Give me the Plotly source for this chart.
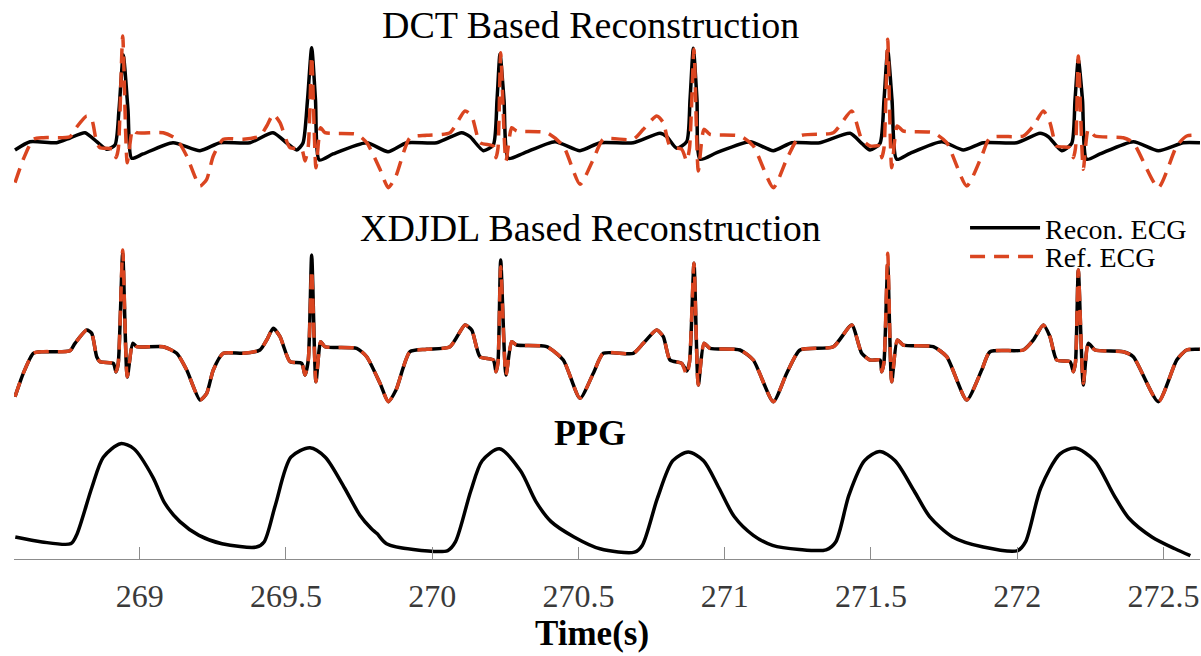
import plotly.graph_objects as go

# ---------------- data ----------------
# Reference ECG (same signal drawn in both ECG panels)
ref_t = [268.5737, 268.6021, 268.6362, 268.6704, 268.7617, 268.7788, 268.8188, 268.8359, 268.8530, 268.8643,
         268.9098, 268.9190, 268.9268, 268.9419, 268.9576, 268.9761, 268.9897, 269.0807, 269.1265, 269.1607,
         269.2062, 269.2291, 269.2516, 269.2858, 269.3542, 269.4113, 269.4342, 269.4568, 269.4797, 269.5139,
         269.5538, 269.5651, 269.5764, 269.5880, 269.6027, 269.6188, 269.6335, 269.7419, 269.7761, 269.8215,
         269.8499, 269.8762, 269.9241, 269.9812, 270.0609, 270.1121, 270.1351, 270.1634, 270.2089, 270.2181,
         270.2250, 270.2342, 270.2523, 270.2718, 270.2889, 270.3915, 270.4482, 270.5053, 270.5508, 270.5850,
         270.6875, 270.7217, 270.7675, 270.7901, 270.8130, 270.8530, 270.8701, 270.8797, 270.8950, 270.9098,
         270.9292, 270.9497, 271.0523, 271.0978, 271.1662, 271.2120, 271.2574, 271.3713, 271.4342, 271.4684,
         271.4968, 271.5310, 271.5368, 271.5446, 271.5573, 271.5710, 271.5901, 271.6106, 271.7132, 271.7590,
         271.8274, 271.8787, 271.9070, 272.0209, 272.0551, 272.0893, 272.1121, 272.1350, 272.1805, 272.1918,
         272.1993, 272.2089, 272.2260, 272.2431, 272.2660, 272.3627, 272.3969, 272.4824, 272.5453, 272.5795,
         272.6249]
ref_v = [-0.447, -0.213, -0.013, 0.003, 0.013, 0.087, 0.220, 0.187, -0.047, -0.097,
         -0.113, -0.197, -0.110, 1.020, -0.247, 0.087, 0.053, 0.053, -0.013, -0.180,
         -0.480, -0.413, -0.180, -0.013, -0.013, 0.020, 0.120, 0.237, 0.153, -0.097,
         -0.113, -0.230, -0.080, 0.820, -0.297, 0.103, 0.053, 0.037, -0.047, -0.313,
         -0.497, -0.380, 0.003, 0.027, 0.053, 0.270, 0.220, -0.047, -0.080, -0.197,
         -0.100, 0.853, -0.230, 0.103, 0.070, 0.053, -0.080, -0.463, -0.213, -0.013,
         -0.013, 0.087, 0.220, 0.153, -0.080, -0.113, -0.230, -0.100, 0.887, -0.330,
         0.087, 0.037, 0.020, -0.080, -0.497, -0.213, 0.020, 0.053, 0.270, -0.013,
         -0.080, -0.080, -0.197, -0.100, 0.987, -0.297, 0.120, 0.070, 0.053, -0.047,
         -0.480, -0.180, 0.003, 0.020, 0.120, 0.270, 0.153, -0.080, -0.097, -0.197,
         -0.100, 0.820, -0.313, 0.087, 0.020, 0.003, -0.047, -0.497, -0.080, 0.020,
         0.027]

# XDJDL reconstruction (nearly identical to the reference)
xdjdl_t = ref_t
xdjdl_v = [-0.447, -0.213, -0.013, 0.003, 0.013, 0.087, 0.220, 0.187, -0.047, -0.097,
           -0.113, -0.200, -0.110, 0.990, -0.250, 0.087, 0.053, 0.053, -0.013, -0.180,
           -0.480, -0.413, -0.180, -0.013, -0.013, 0.020, 0.120, 0.237, 0.153, -0.097,
           -0.113, -0.230, -0.080, 0.970, -0.297, 0.103, 0.053, 0.037, -0.047, -0.313,
           -0.497, -0.380, 0.003, 0.027, 0.053, 0.270, 0.220, -0.047, -0.080, -0.197,
           -0.100, 0.920, -0.230, 0.103, 0.070, 0.053, -0.080, -0.463, -0.213, -0.013,
           -0.013, 0.087, 0.220, 0.153, -0.080, -0.113, -0.190, -0.100, 0.887, -0.330,
           0.087, 0.037, 0.020, -0.080, -0.497, -0.213, 0.020, 0.053, 0.270, -0.013,
           -0.080, -0.080, -0.197, -0.100, 0.870, -0.297, 0.120, 0.070, 0.053, -0.047,
           -0.480, -0.180, 0.003, 0.020, 0.120, 0.270, 0.153, -0.080, -0.097, -0.197,
           -0.100, 0.820, -0.330, 0.087, 0.020, 0.003, -0.047, -0.497, -0.080, 0.020,
           0.027]

# DCT reconstruction
dct_t = [268.5737, 268.6250, 268.7162, 268.7617, 268.8130, 268.8530, 268.8872, 268.9156, 268.9292, 268.9439,
         268.9600, 268.9727, 269.0113, 269.1139, 269.2062, 269.2745, 269.3771, 269.4557, 269.5026, 269.5368,
         269.5583, 269.5737, 269.5880, 269.6010, 269.6140, 269.6609, 269.7761, 269.8489, 269.9128, 270.0154,
         270.1009, 270.1292, 270.1747, 270.2089, 270.2216, 270.2318, 270.2455, 270.2602, 270.3115, 270.4198,
         270.5053, 270.5737, 270.6875, 270.7788, 270.8017, 270.8359, 270.8701, 270.8814, 270.8927, 270.9053,
         270.9156, 270.9727, 271.0865, 271.1662, 271.2290, 271.3258, 271.4284, 271.4684, 271.4968, 271.5310,
         271.5446, 271.5573, 271.5720, 271.5880, 271.6335, 271.7419, 271.8157, 271.8841, 271.9983, 272.0780,
         272.1064, 272.1522, 272.1864, 272.1976, 272.2089, 272.2232, 272.2376, 272.2831, 272.3969, 272.4824,
         272.5679, 272.6249]
dct_v = [-0.120, -0.037, -0.047, 0.000, 0.053, -0.037, -0.113, -0.070, 0.280, 0.830,
         0.280, -0.203, -0.160, -0.047, -0.127, -0.047, -0.047, 0.053, -0.050, -0.120,
         -0.050, 0.380, 0.903, 0.380, -0.220, -0.160, -0.047, -0.137, -0.047, -0.047,
         0.053, 0.013, -0.127, -0.070, 0.380, 0.840, 0.380, -0.203, -0.153, -0.037,
         -0.127, -0.047, -0.047, 0.047, 0.013, -0.103, -0.037, 0.380, 0.897, 0.380,
         -0.213, -0.147, -0.037, -0.127, -0.047, -0.047, 0.047, -0.053, -0.120, -0.053,
         0.380, 0.880, 0.380, -0.213, -0.153, -0.037, -0.120, -0.047, -0.047, 0.047,
         0.013, -0.127, -0.053, 0.380, 0.787, 0.380, -0.213, -0.160, -0.037, -0.127,
         -0.047, -0.047]

# PPG
ppg_t = [268.5747, 268.6663, 268.7644, 268.7839, 268.8362, 268.8756, 268.9344, 268.9802, 269.0458, 269.0851,
         269.1374, 269.2027, 269.2814, 269.3990, 269.4253, 269.4643, 269.5169, 269.5822, 269.6345, 269.6998,
         269.7522, 269.7915, 269.8113, 269.8438, 269.9354, 270.0533, 270.0793, 270.1316, 270.1709, 270.2298,
         270.3019, 270.3542, 270.4065, 270.4848, 270.5737, 270.6916, 270.7180, 270.7703, 270.8226, 270.8752,
         270.9276, 270.9799, 271.0325, 271.0978, 271.1634, 271.2551, 271.3467, 271.3795, 271.4253, 271.4780,
         271.5303, 271.5826, 271.6482, 271.7005, 271.7791, 271.8841, 272.0020, 272.0284, 272.0807, 272.1463,
         272.1986, 272.2643, 272.3296, 272.3819, 272.4605, 272.5392, 272.5919]
ppg_v = [0.190, 0.147, 0.132, 0.204, 0.614, 0.877, 0.994, 0.950, 0.702, 0.483,
         0.322, 0.204, 0.132, 0.103, 0.147, 0.468, 0.877, 0.959, 0.877, 0.614,
         0.380, 0.263, 0.219, 0.132, 0.082, 0.073, 0.147, 0.584, 0.847, 0.950,
         0.760, 0.497, 0.322, 0.190, 0.088, 0.059, 0.117, 0.526, 0.847, 0.921,
         0.847, 0.614, 0.366, 0.204, 0.117, 0.082, 0.079, 0.147, 0.555, 0.847,
         0.927, 0.847, 0.584, 0.366, 0.190, 0.103, 0.073, 0.147, 0.614, 0.906,
         0.956, 0.847, 0.555, 0.351, 0.190, 0.088, 0.029]

tick_vals = [269, 269.5, 270, 270.5, 271, 271.5, 272, 272.5]
tick_text = ["269", "269.5", "270", "270.5", "271", "271.5", "272", "272.5"]

panel_titles = ["DCT Based Reconstruction", "XDJDL Based Reconstruction", "PPG"]
legend_names = ["Recon. ECG", "Ref. ECG"]
x_title = "Time(s)"

# ---------------- styling ----------------
BLACK = "#000000"
RED = "#DA4520"
SERIF = "Liberation Serif"
LW = 3.5
DASH = "15px,9px"

fig = go.Figure()

# DCT panel (y)
fig.add_trace(go.Scatter(x=dct_t, y=dct_v, mode="lines", xaxis="x", yaxis="y",
                         line=dict(color=BLACK, width=LW, shape="spline", smoothing=0.6),
                         name=legend_names[0], showlegend=False, hoverinfo="skip"))
fig.add_trace(go.Scatter(x=ref_t, y=ref_v, mode="lines", xaxis="x", yaxis="y",
                         line=dict(color=RED, width=LW, dash=DASH, shape="spline", smoothing=0.6),
                         name=legend_names[1], showlegend=False, hoverinfo="skip"))
# XDJDL panel (y2)
fig.add_trace(go.Scatter(x=xdjdl_t, y=xdjdl_v, mode="lines", xaxis="x", yaxis="y2",
                         line=dict(color=BLACK, width=LW, shape="spline", smoothing=0.6),
                         name=legend_names[0], showlegend=True, legend="legend"))
fig.add_trace(go.Scatter(x=ref_t, y=ref_v, mode="lines", xaxis="x", yaxis="y2",
                         line=dict(color=RED, width=LW, dash=DASH, shape="spline", smoothing=0.6),
                         name=legend_names[1], showlegend=True, legend="legend2"))
# PPG panel (y3)
fig.add_trace(go.Scatter(x=ppg_t, y=ppg_v, mode="lines", xaxis="x", yaxis="y3",
                         line=dict(color=BLACK, width=LW, shape="spline", smoothing=0.8),
                         name="PPG", showlegend=False))

hidden_y = dict(visible=False, showgrid=False, zeroline=False, fixedrange=True)

legend_common = dict(x=0.8019, xanchor="left", yanchor="middle",
                     bgcolor="rgba(255,255,255,0)", borderwidth=0,
                     font=dict(family=SERIF, size=28, color="black"),
                     itemwidth=70, tracegroupgap=0)

fig.update_layout(
    width=1201, height=656,
    margin=dict(l=14, r=1, t=0, b=97),
    paper_bgcolor="white", plot_bgcolor="white",
    font=dict(family=SERIF, color="black"),
    xaxis=dict(range=[268.5703, 272.6249], anchor="y3", showgrid=False, zeroline=False,
               showline=True, linecolor="#8c8c8c", linewidth=1.2,
               ticks="inside", ticklen=12, tickcolor="#8c8c8c", tickwidth=1.2,
               tickvals=tick_vals, ticktext=tick_text,
               tickfont=dict(family=SERIF, size=32, color="#3a3a3a"),
               ticklabelstandoff=8),
    yaxis=dict(domain=[0.6512, 0.9463], range=[-0.57, 1.08], **hidden_y),
    yaxis2=dict(domain=[0.2683, 0.5635], range=[-0.57, 1.08], **hidden_y),
    yaxis3=dict(domain=[0.0, 0.2487], range=[0.0, 1.198], **hidden_y),
    showlegend=True,
    legend=dict(y=0.5921, **legend_common),
    legend2=dict(y=0.5408, **legend_common),
    annotations=[
        dict(text=panel_titles[0], x=0.4857, y=0.9553, xref="paper", yref="paper",
             xanchor="center", yanchor="middle", showarrow=False,
             font=dict(family=SERIF, size=38, color="black")),
        dict(text=panel_titles[1], x=0.4857, y=0.5921, xref="paper", yref="paper",
             xanchor="center", yanchor="middle", showarrow=False,
             font=dict(family=SERIF, size=38, color="black")),
        dict(text="<b>" + panel_titles[2] + "</b>", x=0.4857, y=0.2254, xref="paper", yref="paper",
             xanchor="center", yanchor="middle", showarrow=False,
             font=dict(family=SERIF, size=36, color="black")),
        dict(text="<b>" + x_title + "</b>", x=0.4874, y=-0.1324, xref="paper", yref="paper",
             xanchor="center", yanchor="middle", showarrow=False,
             font=dict(family=SERIF, size=35, color="black")),
    ],
)

fig.write_html("out.html", config={"displayModeBar": False},
               post_script="document.body.style.margin='0px';")
